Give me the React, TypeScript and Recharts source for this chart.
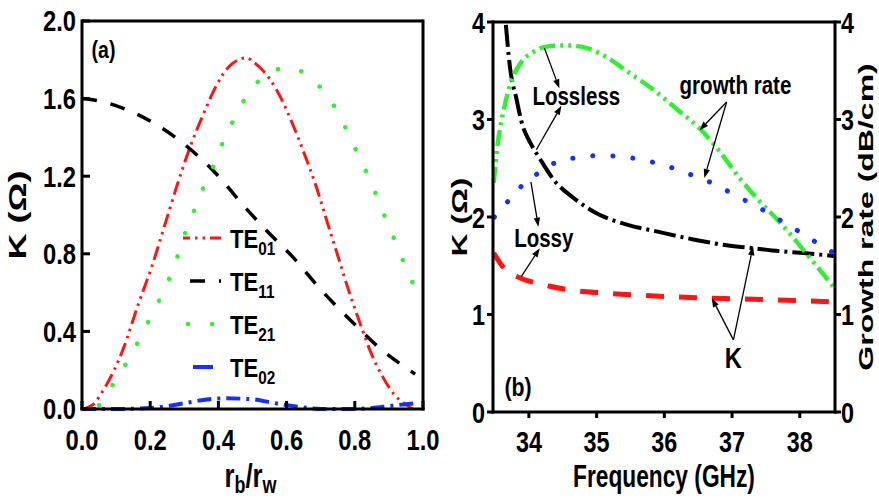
import React from "react";
import { LineChart, Line, XAxis, YAxis, ReferenceLine, ReferenceDot, Legend, Label } from "recharts";

// (a) coupling impedance K of each mode vs r_b/r_w
const te01Ratio = [0, 0.03, 0.067, 0.121, 0.165, 0.204, 0.243, 0.282, 0.317, 0.356, 0.395, 0.434, 0.483, 0.502, 0.551, 0.59, 0.615, 0.649, 0.688, 0.718, 0.752, 0.786, 0.82, 0.845, 0.879, 0.918, 0.952, 0.97];
const te01K = [0, 0.02, 0.11, 0.31, 0.54, 0.73, 0.95, 1.17, 1.35, 1.52, 1.67, 1.77, 1.81, 1.79, 1.7, 1.58, 1.48, 1.33, 1.14, 0.97, 0.78, 0.59, 0.42, 0.3, 0.175, 0.07, 0.02, 0];
const te11Ratio = [0, 0.043, 0.121, 0.214, 0.317, 0.395, 0.473, 0.541, 0.62, 0.703, 0.786, 0.869, 0.977];
const te11K = [1.6, 1.59, 1.55, 1.47, 1.34, 1.21, 1.05, 0.92, 0.78, 0.61, 0.46, 0.32, 0.18];
const te21Ratio = [0.05, 0.092, 0.141, 0.18, 0.209, 0.243, 0.273, 0.297, 0.326, 0.356, 0.39, 0.419, 0.454, 0.488, 0.541, 0.6, 0.654, 0.703, 0.747, 0.781, 0.815, 0.85, 0.879, 0.908, 0.938, 0.97];
const te21K = [0.02, 0.13, 0.27, 0.4, 0.5, 0.62, 0.75, 0.88, 1.01, 1.14, 1.27, 1.4, 1.52, 1.63, 1.72, 1.76, 1.73, 1.65, 1.54, 1.42, 1.29, 1.16, 1.03, 0.91, 0.78, 0.65];
const te02Ratio = [0, 0.1, 0.2, 0.25, 0.3, 0.35, 0.42, 0.5, 0.55, 0.6, 0.65, 0.7, 0.8, 0.85, 0.9, 0.95, 0.98];
const te02K = [0, 0, 0.005, 0.015, 0.03, 0.045, 0.055, 0.05, 0.035, 0.02, 0.008, 0, 0, 0.005, 0.015, 0.025, 0.03];
const ratioTicks = [0, 0.2, 0.4, 0.6, 0.8, 1.0];
const kTicksA = [0, 0.4, 0.8, 1.2, 1.6, 2.0];

// (b) K and growth rate vs frequency
const kLosslessFreq = [33.66, 33.72, 33.82, 33.89, 34.03, 34.16, 34.38, 34.65, 35.02, 35.46, 35.9, 36.43, 36.92, 37.31, 37.7, 38.05, 38.5];
const kLosslessK = [3.97, 3.54, 3.2, 2.98, 2.75, 2.6, 2.37, 2.2, 2.03, 1.92, 1.85, 1.77, 1.71, 1.68, 1.65, 1.63, 1.6];
const kLossyFreq = [33.48, 33.64, 33.89, 34.13, 34.62, 35.12, 35.86, 36.57, 37.11, 37.61, 38.5];
const kLossyK = [1.63, 1.47, 1.37, 1.32, 1.25, 1.22, 1.19, 1.17, 1.16, 1.15, 1.13];
const grLosslessFreq = [33.48, 33.54, 33.62, 33.74, 33.89, 34.08, 34.28, 34.58, 34.87, 35.17, 35.46, 35.81, 36.23, 36.52, 36.82, 37.11, 37.41, 37.7, 37.95, 38.15, 38.34, 38.5];
const grLosslessRate = [2.35, 2.75, 3.07, 3.39, 3.59, 3.7, 3.75, 3.76, 3.73, 3.63, 3.49, 3.32, 3.08, 2.91, 2.67, 2.4, 2.16, 1.95, 1.75, 1.58, 1.42, 1.28];
const grLossyFreq = [33.49, 33.69, 33.91, 34.16, 34.43, 34.72, 35.02, 35.36, 35.71, 36.01, 36.28, 36.57, 36.84, 37.11, 37.36, 37.63, 37.9, 38.1, 38.34, 38.48];
const grLossyRate = [2.0, 2.16, 2.33, 2.46, 2.57, 2.61, 2.63, 2.62, 2.58, 2.53, 2.46, 2.39, 2.3, 2.2, 2.11, 2.0, 1.89, 1.8, 1.7, 1.64];
const freqTicks = [34, 35, 36, 37, 38];
const kTicksB = [0, 1, 2, 3, 4];
const growthTicks = [0, 1, 2, 3, 4];

// annotation text and arrows of panel (b), in (GHz, value) coordinates
const notes = [
  { text: "Lossless", f: 34.7, v: 3.15, size: 26 },
  { text: "Lossy", f: 34.22, v: 1.69, size: 26 },
  { text: "growth rate", f: 37.05, v: 3.26, size: 26 },
  { text: "K", f: 37.02, v: 0.45, size: 30 },
];
const arrows = [
  [34.23, 3.73, 34.45, 3.32],
  [34.11, 2.69, 34.48, 3.14],
  [34.03, 2.36, 34.14, 1.9],
  [33.89, 1.39, 34.16, 1.68],
  [36.92, 3.18, 36.52, 2.89],
  [36.92, 3.18, 36.59, 2.4],
  [37.02, 0.74, 36.7, 1.17],
  [37.02, 0.74, 37.31, 1.7],
];

const zip = (xs: number[], ys: number[]) => xs.map((x, i) => ({ x, y: ys[i] }));

const modes = [
  { key: "TE01", sub: "01", data: zip(te01Ratio, te01K), color: "#ff1414", width: 3, dash: "14 5 2.5 5 2.5 5", cap: "butt", legendDash: "14 5 2.5 5 2.5 5", legendOffset: 7 },
  { key: "TE11", sub: "11", data: zip(te11Ratio, te11K), color: "#000000", width: 3.5, dash: "15 14", cap: "butt", legendDash: "15 14", legendOffset: 22 },
  { key: "TE21", sub: "21", data: zip(te21Ratio, te21K), color: "#33ee33", width: 4.5, dash: "0.1 24", cap: "round", legendDash: "0.1 24", legendOffset: -5 },
  { key: "TE02", sub: "02", data: zip(te02Ratio, te02K), color: "#1430ff", width: 4, dash: "14 6 3 6", cap: "butt", legendDash: "20 18", legendOffset: 28 },
];

const bSeries = [
  { key: "kLossless", axis: "k", data: zip(kLosslessFreq, kLosslessK), color: "#000000", width: 4, dash: "22 5 3 5", cap: "butt" },
  { key: "kLossy", axis: "k", data: zip(kLossyFreq, kLossyK), color: "#ff1414", width: 5, dash: "18 15", cap: "butt" },
  { key: "grLossless", axis: "g", data: zip(grLosslessFreq, grLosslessRate), color: "#33ee33", width: 4.5, dash: "16 5 3 5 3 5", cap: "butt" },
  { key: "grLossy", axis: "g", data: zip(grLossyFreq, grLossyRate), color: "#1430ff", width: 5, dash: "0.1 20", cap: "round" },
];

const FONT = "'Liberation Sans', Arial, Helvetica, sans-serif";

type TxtProps = {
  x: number;
  y: number;
  size: number;
  sx?: number;
  sy?: number;
  rot?: number;
  anchor?: "start" | "middle" | "end";
  children: React.ReactNode;
};

// bold text, squeezed the way the scanned figure is
function Txt({ x, y, size, sx = 1, sy = 1, rot = 0, anchor = "middle", children }: TxtProps) {
  return (
    <text
      transform={`translate(${x},${y}) rotate(${rot}) scale(${sx},${sy})`}
      fontFamily={FONT}
      fontWeight={700}
      fontSize={size}
      textAnchor={anchor}
      fill="#000"
    >
      {children}
    </text>
  );
}

const fmt1 = (v: number) => v.toFixed(1);
const fmt0 = (v: number) => String(v);

// tick mark + label; the mark is drawn here so it can point into the plot
type TickOpts = {
  side: "bottom" | "left" | "right";
  size: number;
  sx: number;
  fmt?: (v: number) => string;
  tickSize: number;
  tickMargin: number;
};
const makeTick = ({ side, size, sx, fmt, tickSize, tickMargin }: TickOpts) => (p: any) => {
  const label = fmt ? fmt(p.payload.value) : null;
  if (side === "bottom") {
    const axisY = p.y - tickMargin - tickSize;
    return (
      <g>
        <line x1={p.x} x2={p.x} y1={axisY} y2={axisY + tickSize} stroke="#000" strokeWidth={3} />
        {label !== null && (
          <Txt x={p.x} y={p.y + size * 0.72} size={size} sx={sx}>
            {label}
          </Txt>
        )}
      </g>
    );
  }
  const dir = side === "left" ? -1 : 1;
  const axisX = p.x - dir * (tickMargin + tickSize);
  return (
    <g>
      <line x1={axisX} x2={axisX + dir * tickSize} y1={p.y} y2={p.y} stroke="#000" strokeWidth={3} />
      {label !== null && (
        <Txt x={p.x} y={p.y + size * 0.36} size={size} sx={sx} anchor={side === "left" ? "end" : "start"}>
          {label}
        </Txt>
      )}
    </g>
  );
};

const axisLine = { stroke: "#000", strokeWidth: 3, strokeLinecap: "square" as const };

function ModeLegend() {
  return (
    <svg width={120} height={175} style={{ display: "block", overflow: "visible" }}>
      {modes.map((m, i) => {
        const cy = 23 + i * 43;
        return (
          <g key={m.key}>
            <line
              x1={8}
              x2={46}
              y1={cy}
              y2={cy}
              stroke={m.color}
              strokeWidth={m.width}
              strokeDasharray={m.legendDash}
              strokeDashoffset={m.legendOffset}
              strokeLinecap={m.cap as any}
            />
            <Txt x={55} y={cy + 10} size={26} sx={0.85} anchor="start">
              TE<tspan fontSize={18} dy={7}>{m.sub}</tspan>
            </Txt>
          </g>
        );
      })}
    </svg>
  );
}

const arrowShape = (p: any) => {
  const { x1, y1, x2, y2 } = p;
  const a = Math.atan2(y2 - y1, x2 - x1);
  const bx = x2 - 9 * Math.cos(a);
  const by = y2 - 9 * Math.sin(a);
  const px = -Math.sin(a) * 3.2;
  const py = Math.cos(a) * 3.2;
  return (
    <g>
      <line x1={x1} y1={y1} x2={bx} y2={by} stroke="#000" strokeWidth={1.3} />
      <path d={`M${x2},${y2}L${bx + px},${by + py}L${bx - px},${by - py}Z`} fill="#000" />
    </g>
  );
};

export default function App() {
  return (
    <div style={{ position: "absolute", left: 0, top: 0, width: 879, height: 504, background: "#fff" }}>
      <div style={{ position: "absolute", left: 0, top: 0 }}>
        <LineChart width={440} height={504} margin={{ top: 21, right: 7, bottom: 35, left: 22 }}>
          <XAxis
            dataKey="x"
            type="number"
            domain={[0, 1]}
            ticks={ratioTicks}
            interval={0}
            height={60}
            tickSize={-8}
            tickMargin={28}
            axisLine={axisLine}
            tickLine={false}
            tick={makeTick({ side: "bottom", size: 29, sx: 0.82, fmt: fmt1, tickSize: -8, tickMargin: 28 })}
          >
            <Label
              content={(p: any) => (
                <Txt x={p.viewBox.x + p.viewBox.width / 2 - 2} y={p.viewBox.y + 78} size={33} sx={0.78}>
                  r<tspan fontSize={23} dy={6}>b</tspan>
                  <tspan dy={-6}>/r</tspan>
                  <tspan fontSize={23} dy={6}>w</tspan>
                </Txt>
              )}
            />
          </XAxis>
          <YAxis
            yAxisId="l"
            type="number"
            domain={[0, 2]}
            ticks={kTicksA}
            interval={0}
            width={60}
            tickSize={-8}
            tickMargin={14}
            axisLine={axisLine}
            tickLine={false}
            tick={makeTick({ side: "left", size: 29, sx: 0.82, fmt: fmt1, tickSize: -8, tickMargin: 14 })}
          >
            <Label
              content={(p: any) => (
                <Txt x={p.viewBox.x + 4} y={p.viewBox.y + p.viewBox.height / 2} size={36} sy={0.64} rot={-90}>
                  K (Ω)
                </Txt>
              )}
            />
          </YAxis>
          <YAxis
            yAxisId="r"
            orientation="right"
            type="number"
            domain={[0, 2]}
            ticks={kTicksA}
            interval={0}
            width={10}
            tickSize={-8}
            tickMargin={0}
            axisLine={axisLine}
            tickLine={false}
            tick={makeTick({ side: "right", size: 29, sx: 0.82, tickSize: -8, tickMargin: 0 })}
          />
          <ReferenceLine yAxisId="l" y={2} stroke="#000" strokeWidth={3} />
          {modes.map((m) => (
            <Line
              key={m.key}
              yAxisId="l"
              data={m.data}
              dataKey="y"
              name={m.key}
              type="monotone"
              stroke={m.color}
              strokeWidth={m.width}
              strokeDasharray={m.dash}
              strokeLinecap={m.cap as any}
              dot={false}
              activeDot={false}
              isAnimationActive={false}
            />
          ))}
          <ReferenceDot
            yAxisId="l"
            x={0.028}
            y={1.807}
            r={0}
            shape={(p: any) => (
              <Txt x={p.cx} y={p.cy} size={23} sx={0.85} anchor="start">
                (a)
              </Txt>
            )}
          />
          <Legend
            layout="vertical"
            align="center"
            verticalAlign="middle"
            content={() => <ModeLegend />}
            wrapperStyle={{ left: 175, top: 215, width: 120, height: 175 }}
          />
        </LineChart>
      </div>

      <div style={{ position: "absolute", left: 440, top: 0 }}>
        <LineChart width={439} height={504} margin={{ top: 22, right: 4, bottom: 32, left: 8 }}>
          <XAxis
            dataKey="x"
            type="number"
            domain={[33.47, 38.52]}
            ticks={freqTicks}
            interval={0}
            height={60}
            tickSize={6}
            tickMargin={12}
            axisLine={axisLine}
            tickLine={false}
            tick={makeTick({ side: "bottom", size: 30, sx: 0.78, fmt: fmt0, tickSize: 6, tickMargin: 12 })}
          >
            <Label
              content={(p: any) => (
                <Txt x={p.viewBox.x + p.viewBox.width / 2} y={p.viewBox.y + 75} size={32} sx={0.71}>
                  Frequency (GHz)
                </Txt>
              )}
            />
          </XAxis>
          <YAxis
            yAxisId="k"
            type="number"
            domain={[0, 4]}
            ticks={kTicksB}
            interval={0}
            width={45}
            tickSize={6}
            tickMargin={2}
            axisLine={axisLine}
            tickLine={false}
            tick={makeTick({ side: "left", size: 30, sx: 0.78, fmt: fmt0, tickSize: 6, tickMargin: 2 })}
          >
            <Label
              content={(p: any) => (
                <Txt x={p.viewBox.x + 19} y={p.viewBox.y + p.viewBox.height / 2} size={32} sy={0.68} rot={-90}>
                  K (Ω)
                </Txt>
              )}
            />
          </YAxis>
          <YAxis
            yAxisId="g"
            orientation="right"
            type="number"
            domain={[0, 4]}
            ticks={growthTicks}
            interval={0}
            width={40}
            tickSize={6}
            tickMargin={0}
            axisLine={axisLine}
            tickLine={false}
            tick={makeTick({ side: "right", size: 30, sx: 0.78, fmt: fmt0, tickSize: 6, tickMargin: 0 })}
          >
            <Label
              content={(p: any) => (
                <Txt x={p.viewBox.x + 38} y={p.viewBox.y + p.viewBox.height / 2} size={32} sy={0.62} rot={-90}>
                  Growth rate (dB/cm)
                </Txt>
              )}
            />
          </YAxis>
          <ReferenceLine yAxisId="k" y={4} stroke="#000" strokeWidth={3} />
          {bSeries.map((s) => (
            <Line
              key={s.key}
              yAxisId={s.axis}
              data={s.data}
              dataKey="y"
              name={s.key}
              type="monotone"
              stroke={s.color}
              strokeWidth={s.width}
              strokeDasharray={s.dash}
              strokeLinecap={s.cap as any}
              dot={false}
              activeDot={false}
              isAnimationActive={false}
            />
          ))}
          {arrows.map((a, i) => (
            <ReferenceLine
              key={`arrow-${i}`}
              yAxisId="k"
              segment={[
                { x: a[0], y: a[1] },
                { x: a[2], y: a[3] },
              ]}
              shape={arrowShape}
            />
          ))}
          {notes.map((n) => (
            <ReferenceDot
              key={n.text}
              yAxisId="k"
              x={n.f}
              y={n.v}
              r={0}
              shape={(p: any) => (
                <Txt x={p.cx} y={p.cy} size={n.size} sx={0.79}>
                  {n.text}
                </Txt>
              )}
            />
          ))}
          <ReferenceDot
            yAxisId="k"
            x={33.64}
            y={0.16}
            r={0}
            shape={(p: any) => (
              <Txt x={p.cx} y={p.cy} size={25} sx={0.85} anchor="start">
                (b)
              </Txt>
            )}
          />
        </LineChart>
      </div>
    </div>
  );
}
